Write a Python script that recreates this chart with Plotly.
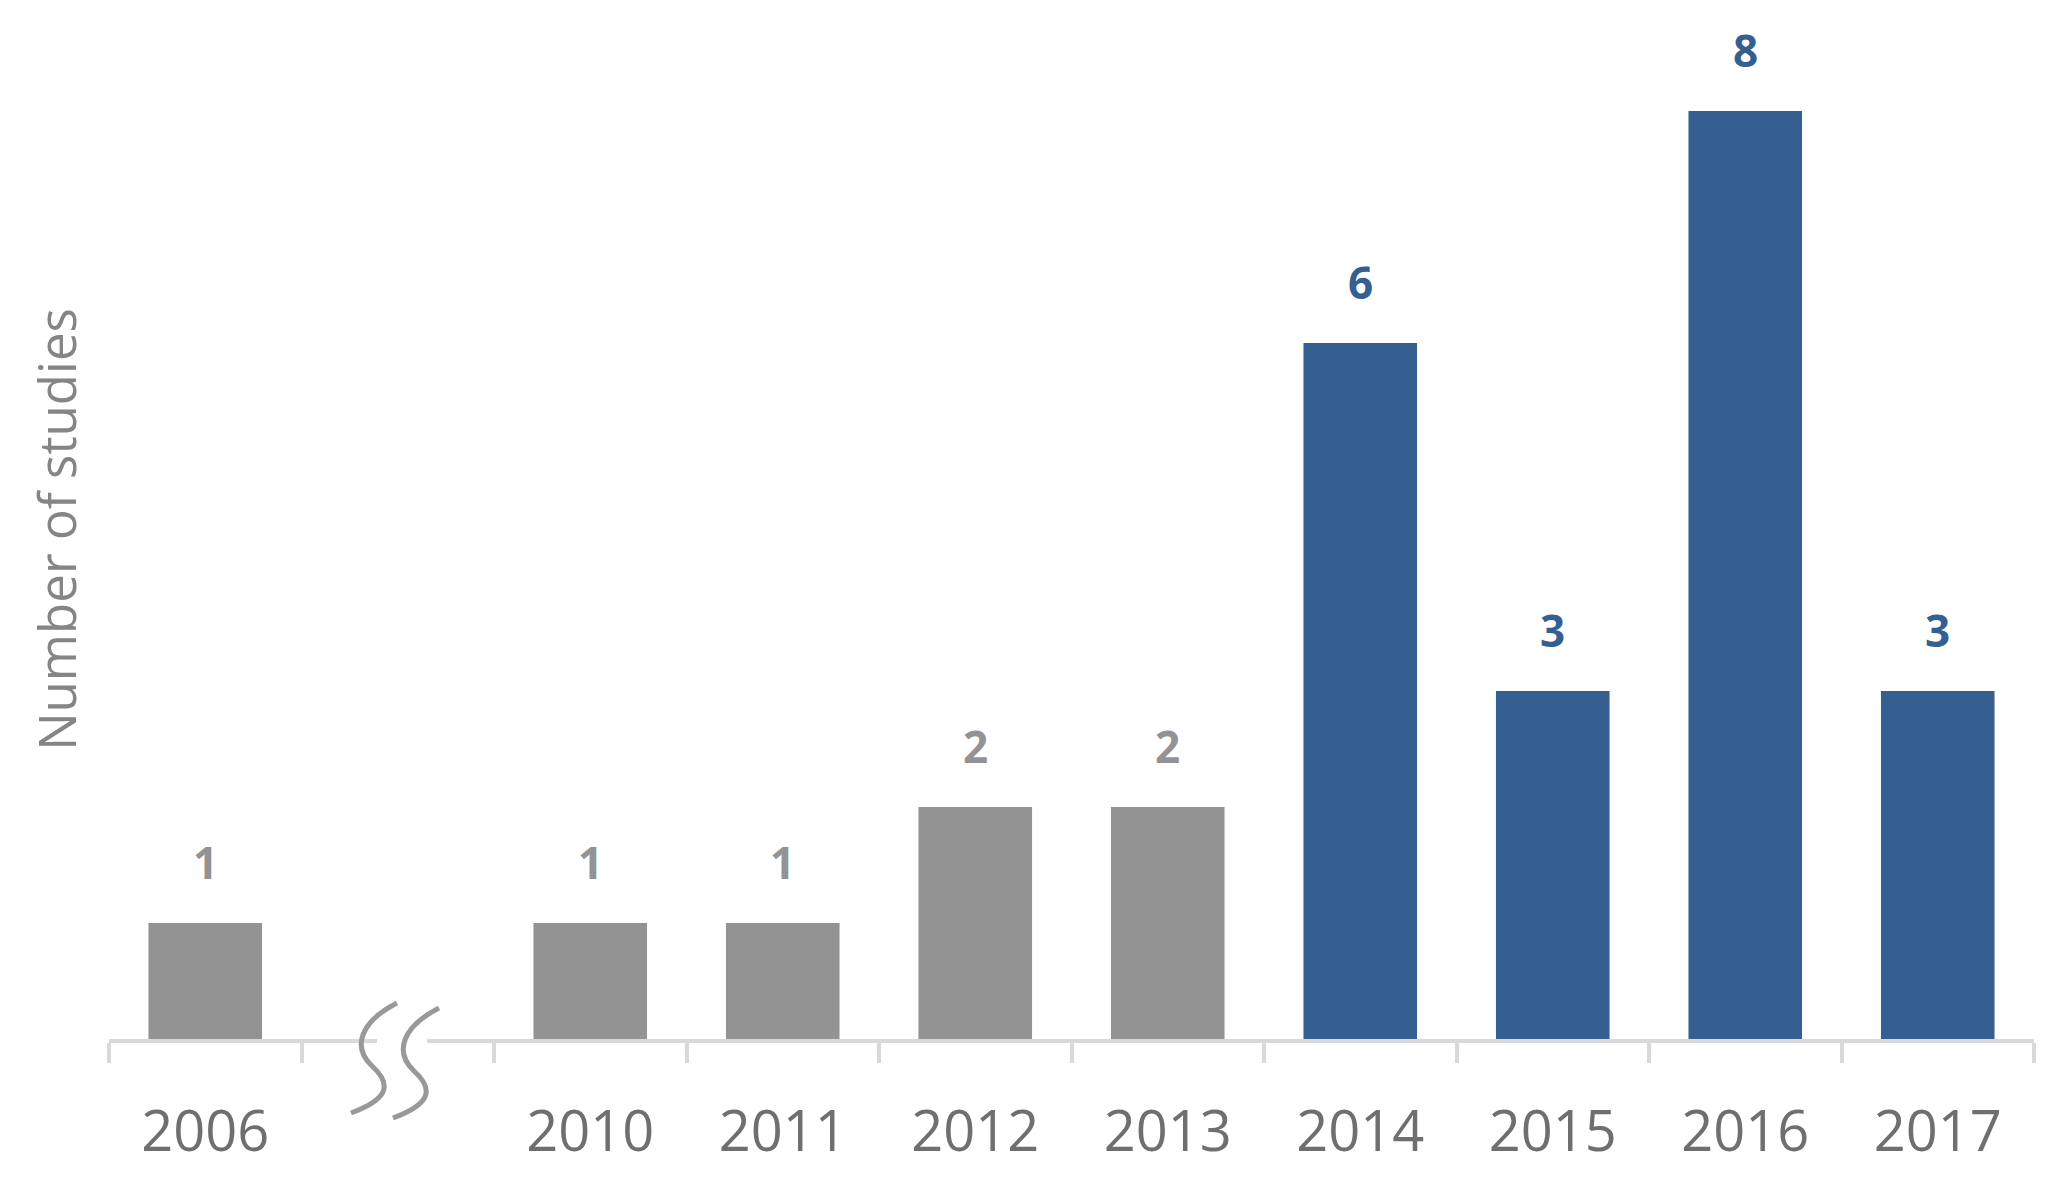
import plotly.graph_objects as go

years = ["2006", " ", "2010", "2011", "2012", "2013", "2014", "2015", "2016", "2017"]
studies = [1, None, 1, 1, 2, 2, 6, 3, 8, 3]
GRAY = "#939393"
BLUE = "#365F91"
bar_colors = [GRAY, GRAY, GRAY, GRAY, GRAY, GRAY, BLUE, BLUE, BLUE, BLUE]
label_colors = [GRAY] * 6 + [BLUE] * 4

OFF = 8  # default page body margin
W, H = 2067 - 2 * OFF, 1189 - 2 * OFF
ML, MT = 109 - OFF, 20 - OFF
PW = 1925
MR = W - ML - PW
MB = H - (1039 - OFF)
PH = H - MT - MB
YMAX = PH / 116.0

fig = go.Figure()
fig.add_trace(go.Bar(x=years, y=studies, marker=dict(color=bar_colors, line=dict(width=0)),
                     width=0.59, hoverinfo="x+y"))

for i, (v, c) in enumerate(zip(studies, label_colors)):
    if v is None:
        continue
    fig.add_annotation(x=i, y=v, xref="x", yref="y", text=f"<b>{v}</b>", showarrow=False,
                       yanchor="middle", yshift=61,
                       font=dict(family="Open Sans", size=44, color=c))

# axis break decoration (page pixel -> paper)
def px(xp):
    return (xp - OFF - ML) / PW
def py(yp):
    return (H - MB - (yp - OFF)) / PH

fig.add_shape(type="rect", xref="paper", yref="paper", x0=px(377), x1=px(427), y0=py(1046), y1=py(1032),
              fillcolor="white", line=dict(width=0), layer="above")

def s_path(dx, dy):
    pts = [(397, 1003), (360, 1022), (352, 1047), (372, 1066), (394, 1086), (386, 1100), (351, 1113)]
    p = [(px(a + dx), py(b + dy)) for a, b in pts]
    return (f"M {p[0][0]},{p[0][1]} C {p[1][0]},{p[1][1]} {p[2][0]},{p[2][1]} {p[3][0]},{p[3][1]} "
            f"C {p[4][0]},{p[4][1]} {p[5][0]},{p[5][1]} {p[6][0]},{p[6][1]}")

for dx, dy in [(0, 0), (42, 5)]:
    fig.add_shape(type="path", xref="paper", yref="paper", path=s_path(dx, dy),
                  line=dict(color="#999999", width=5), layer="above")

fig.update_layout(
    width=W, height=H,
    margin=dict(l=ML, r=MR, t=MT, b=MB, autoexpand=False),
    plot_bgcolor="white", paper_bgcolor="white",
    showlegend=False,
    font=dict(family="Open Sans", color="#6f6f6f"),
    xaxis=dict(type="category", showline=True, linecolor="#d9d9d9", linewidth=4,
               ticks="outside", tickson="boundaries", ticklen=20, tickwidth=3.5, tickcolor="#d9d9d9",
               tickfont=dict(family="Open Sans", size=56, color="#6f6f6f"), showgrid=False,
               ticklabelstandoff=41, automargin=False, range=[-0.5, 9.5]),
    yaxis=dict(range=[0, YMAX], showline=False, showticklabels=False, showgrid=False,
               zeroline=False, ticks="", automargin=False,
               title=dict(text="Number of studies", font=dict(family="Open Sans", size=51, color="#858585"),
                          standoff=15)),
)

fig.write_html("out.html")
